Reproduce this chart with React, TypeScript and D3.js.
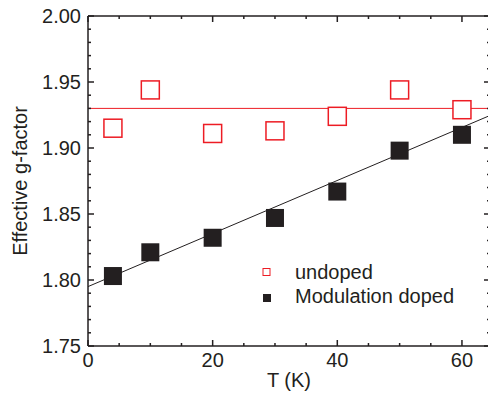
import React from "react";
import * as d3 from "d3";

const temps = [4, 10, 20, 30, 40, 50, 60];
const undoped = [1.915, 1.944, 1.911, 1.913, 1.924, 1.944, 1.929];
const modDoped = [1.803, 1.821, 1.832, 1.847, 1.867, 1.898, 1.910];
const undopedFit = [1.93]; // constant
const dopedFit = [1.795, 0.00201]; // intercept, slope
const xTicks = [0, 20, 40, 60];
const yTicks = [1.75, 1.8, 1.85, 1.9, 1.95, 2.0];
const legendLabels = ["undoped", "Modulation doped"];

const W = 488, H = 394;
const M = { left: 88, top: 16, right: 490, bottom: 346 };
const TEXT = "#231f20";
const RED = "#ed1c24";
const FONT = "'Liberation Sans', Arial, sans-serif";

export default function App() {
  const x = d3.scaleLinear().domain([0, 64.5]).range([M.left, M.right]);
  const y = d3.scaleLinear().domain([1.75, 2.0]).range([M.bottom, M.top]);
  const xMinor = d3.range(0, 65, 5);
  const yMinor = d3.range(0, 26).map((i) => 1.75 + i * 0.01);
  const sq = 18;
  const line = d3.line<[number, number]>().x((d) => x(d[0])).y((d) => y(d[1]));
  const xEnd = x.domain()[1];
  return (
    <svg width={W} height={H} style={{ display: "block", position: "absolute", left: 0, top: 0 }} fontFamily={FONT}>
      <rect width={W} height={H} fill="#fff" />
      {/* fit lines */}
      <path d={line([[0, undopedFit[0]], [xEnd, undopedFit[0]]]) || ""} stroke={RED} strokeWidth={1} fill="none" />
      <path d={line([[0, dopedFit[0]], [xEnd, dopedFit[0] + dopedFit[1] * xEnd]]) || ""} stroke={TEXT} strokeWidth={1} fill="none" />
      {/* axes frame */}
      <g stroke={TEXT} strokeWidth={1.5}>
        <line x1={M.left} x2={M.right} y1={M.bottom} y2={M.bottom} />
        <line x1={M.left} x2={M.right} y1={M.top} y2={M.top} />
        <line x1={M.left} x2={M.left} y1={M.top} y2={M.bottom} />
        <line x1={M.right} x2={M.right} y1={M.top} y2={M.bottom} />
        {xMinor.map((t) => {
          const len = t % 20 === 0 ? 6 : 3;
          return (
            <g key={"xt" + t}>
              <line x1={x(t)} x2={x(t)} y1={M.bottom} y2={M.bottom - len} />
              <line x1={x(t)} x2={x(t)} y1={M.top} y2={M.top + len} />
            </g>
          );
        })}
        {yMinor.map((t, i) => {
          const len = i % 5 === 0 ? 6 : 3;
          return (
            <g key={"yt" + i}>
              <line x1={M.left} x2={M.left + len} y1={y(t)} y2={y(t)} />
              <line x1={M.right} x2={M.right - len} y1={y(t)} y2={y(t)} />
            </g>
          );
        })}
      </g>
      {/* tick labels */}
      {xTicks.map((t) => (
        <text key={"xl" + t} x={x(t)} y={367} textAnchor="middle" fontSize={20} fill={TEXT}>
          {t}
        </text>
      ))}
      {yTicks.map((t) => (
        <text key={"yl" + t} x={81} y={y(t) + 7} textAnchor="end" fontSize={20} fill={TEXT}>
          {d3.format(".2f")(t)}
        </text>
      ))}
      <text x={289} y={387} textAnchor="middle" fontSize={20} fill={TEXT}>T (K)</text>
      <text transform={`translate(27,${(M.top + M.bottom) / 2}) rotate(-90)`} textAnchor="middle" fontSize={20} fill={TEXT}>
        Effective g-factor
      </text>
      {/* data */}
      {temps.map((t, i) => (
        <rect key={"u" + i} x={x(t) - sq / 2} y={y(undoped[i]) - sq / 2} width={sq} height={sq} fill="#fff" stroke={RED} strokeWidth={1.5} />
      ))}
      {temps.map((t, i) => (
        <rect key={"d" + i} x={x(t) - sq / 2} y={y(modDoped[i]) - sq / 2} width={sq} height={sq} fill={TEXT} />
      ))}
      {/* legend */}
      <rect x={263} y={268.5} width={7} height={7} fill="#fff" stroke={RED} strokeWidth={1} />
      <text x={295} y={279} fontSize={20} fill={TEXT}>{legendLabels[0]}</text>
      <rect x={263} y={294} width={8} height={8} fill={TEXT} />
      <text x={295} y={303} fontSize={20} fill={TEXT}>{legendLabels[1]}</text>
    </svg>
  );
}
